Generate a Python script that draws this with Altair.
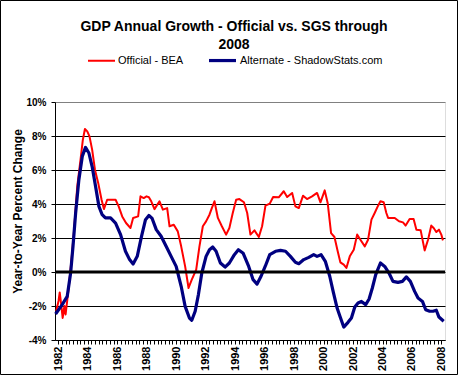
import altair as alt
import pandas as pd

off_years = [1981.86, 1982.02, 1982.10, 1982.20, 1982.30, 1982.42, 1982.50, 1982.62, 1982.72, 1982.90,
             1983.06, 1983.29, 1983.51, 1983.67, 1983.81, 1983.97, 1984.12, 1984.30, 1984.49, 1984.71,
             1984.94, 1985.10, 1985.32, 1985.89, 1986.10, 1986.34, 1986.60, 1986.90, 1987.08, 1987.42,
             1987.58, 1987.80, 1987.99, 1988.15, 1988.31, 1988.53, 1988.87, 1989.10, 1989.39, 1989.55,
             1989.84, 1990.11, 1990.34, 1990.61, 1990.84, 1991.06, 1991.36, 1991.58, 1991.81, 1992.03,
             1992.26, 1992.42, 1992.60, 1992.83, 1993.10, 1993.39, 1993.61, 1993.84, 1994.07, 1994.29,
             1994.60, 1994.82, 1995.04, 1995.31, 1995.61, 1995.83, 1996.06, 1996.35, 1996.58, 1996.96,
             1997.30, 1997.53, 1997.87, 1998.09, 1998.32, 1998.61, 1998.88, 1999.22, 1999.56, 1999.79,
             2000.08, 2000.28, 2000.51, 2000.74, 2000.96, 2001.14, 2001.37, 2001.55, 2001.78, 2002.05,
             2002.28, 2002.50, 2002.80, 2003.02, 2003.25, 2003.47, 2003.70, 2003.86, 2004.08, 2004.26,
             2004.38, 2004.83, 2005.12, 2005.39, 2005.57, 2005.84, 2006.11, 2006.30, 2006.59, 2006.86,
             2007.09, 2007.31, 2007.47, 2007.65, 2007.83, 2007.99, 2008.10]
off_vals = [-2.30, -1.70, -1.20, -1.90, -2.70, -2.00, -2.50, -1.60, -0.84, 0.73,
            2.30, 5.04, 6.60, 7.78, 8.41, 8.27, 7.98, 7.20, 6.02, 5.24,
            4.25, 3.70, 4.25, 4.25, 3.86, 3.27, 2.88, 2.59, 3.18, 3.27,
            4.45, 4.35, 4.45, 4.40, 4.16, 3.70, 4.16, 3.67, 3.76, 2.69,
            2.78, 2.39, 1.51, 0.33, -0.94, -0.45, 0.14, 1.51, 2.69, 2.98,
            3.37, 3.76, 4.16, 3.18, 2.69, 2.20, 2.59, 3.47, 4.25, 4.29,
            4.10, 3.47, 2.20, 2.45, 2.06, 2.69, 3.90, 4.02, 4.41, 4.39,
            4.75, 4.41, 4.65, 3.86, 3.76, 4.49, 4.29, 4.45, 4.65, 4.10,
            4.80, 4.06, 2.29, 2.06, 1.22, 0.57, 0.43, 0.24, 0.92, 1.31,
            2.20, 1.90, 1.51, 1.90, 3.08, 3.47, 3.90, 4.16, 4.10, 3.47,
            3.18, 3.18, 2.98, 2.92, 2.73, 3.12, 3.12, 2.49, 2.45, 1.27,
            1.90, 2.73, 2.59, 2.35, 2.49, 2.20, 1.86]

alt_years = [1981.82, 1982.27, 1982.61, 1982.84, 1983.00, 1983.18, 1983.40, 1983.63, 1983.85, 1984.08,
             1984.30, 1984.53, 1984.76, 1984.98, 1985.20, 1985.55, 1985.89, 1986.23, 1986.56, 1986.84,
             1987.08, 1987.36, 1987.65, 1987.92, 1988.15, 1988.37, 1988.65, 1988.98, 1989.32, 1989.66,
             1990.00, 1990.34, 1990.61, 1990.90, 1991.06, 1991.29, 1991.51, 1991.74, 1992.03, 1992.26,
             1992.48, 1992.71, 1993.00, 1993.32, 1993.61, 1993.95, 1994.22, 1994.55, 1994.90, 1995.22,
             1995.49, 1995.76, 1996.06, 1996.35, 1996.74, 1997.08, 1997.42, 1997.75, 1998.09, 1998.32,
             1998.66, 1999.00, 1999.33, 1999.56, 1999.83, 2000.12, 2000.42, 2000.65, 2000.92, 2001.10,
             2001.37, 2001.66, 2001.89, 2002.12, 2002.34, 2002.57, 2002.86, 2003.09, 2003.31, 2003.54,
             2003.86, 2004.15, 2004.44, 2004.71, 2005.05, 2005.35, 2005.62, 2005.89, 2006.18, 2006.41,
             2006.71, 2006.93, 2007.20, 2007.43, 2007.65, 2007.83, 2008.15]
alt_vals = [-2.47, -1.92, -1.43, -0.06, 1.50, 3.47, 5.43, 6.80, 7.33, 7.00,
            6.20, 5.04, 3.86, 3.37, 3.18, 3.18, 2.88, 2.20, 1.22, 0.73,
            0.47, 0.92, 2.10, 3.08, 3.33, 3.15, 2.49, 2.10, 1.51, 0.92,
            0.33, -0.84, -2.02, -2.71, -2.84, -2.31, -1.33, -0.06, 0.92, 1.31,
            1.47, 1.22, 0.53, 0.29, 0.53, 1.02, 1.31, 1.10, 0.38, -0.45,
            -0.71, -0.25, 0.37, 1.02, 1.22, 1.27, 1.22, 0.92, 0.57, 0.49,
            0.73, 0.86, 1.02, 0.92, 1.02, 0.63, -0.25, -1.14, -2.12, -2.57,
            -3.24, -2.96, -2.71, -2.06, -1.82, -1.73, -1.92, -1.59, -0.94, -0.16,
            0.53, 0.33, -0.06, -0.55, -0.61, -0.55, -0.29, -0.55, -1.14, -1.53,
            -1.73, -2.22, -2.31, -2.31, -2.25, -2.65, -2.90]

series_names = ["Official - BEA", "Alternate - ShadowStats.com"]
series_colors = ["#FF0000", "#000080"]
series_widths = [2, 3.2]
y_ticks = [-4, -2, 0, 2, 4, 6, 8, 10]
x_ticks = [1982 + 0.25 * i for i in range(106)]

df = pd.concat([
    pd.DataFrame({"year": off_years, "value": off_vals, "series": series_names[0], "ord": 0}),
    pd.DataFrame({"year": alt_years, "value": alt_vals, "series": series_names[1], "ord": 1}),
])

FONT = "Liberation Sans"
legend = alt.Legend(orient="none", legendX=32, legendY=-57, direction="horizontal", title=None,
                    symbolType="stroke", symbolSize=729, labelFontSize=11, labelFont=FONT,
                    labelColor="black", labelOffset=2, columnPadding=18)

xscale = alt.Scale(domain=[1981.78, 2008.24], nice=False, zero=False)
yscale = alt.Scale(domain=[-4, 10], nice=False, zero=False)
YTITLE = "Year-to-Year Percent Change"
yaxis = alt.Axis(values=y_ticks, labelExpr="datum.value + '%'", labelFontSize=10,
                 labelFontWeight="bold", labelFont=FONT, labelColor="black",
                 labelOverlap=False, labelBound=False, labelFlush=False,
                 labelPadding=5, tickSize=4, tickColor="black", domainColor="black",
                 gridColor={"condition": {"test": "datum.value == 10", "value": "#808080"},
                            "value": "black"},
                 titleFontSize=12, titleFontWeight="bold", titleFont=FONT,
                 titleColor="black", titleX=-38, titleY=109, titleAngle=270,
                 titleAlign="center", titleBaseline="middle")

lines = alt.Chart(df).mark_line(strokeJoin="round").encode(
    x=alt.X("year:Q", scale=xscale, title=None,
            axis=alt.Axis(values=x_ticks, grid=False, labelAngle=270, labelFontSize=11,
                          labelFontWeight="bold", labelFont=FONT, labelColor="black",
                          labelExpr="(datum.value % 2 === 0) ? toString(datum.value) : ''",
                          labelOverlap=False, labelPadding=2, tickSize=4, tickColor="black",
                          domainColor="black", labelBound=False, labelFlush=False)),
    y=alt.Y("value:Q", scale=yscale, title=YTITLE, axis=yaxis),
    color=alt.Color("series:N", scale=alt.Scale(domain=series_names, range=series_colors), legend=legend),
    strokeWidth=alt.StrokeWidth("series:N", scale=alt.Scale(domain=series_names, range=series_widths),
                                legend=legend),
    order="ord:Q",
)

zero = alt.Chart(pd.DataFrame({"value": [0]})).mark_rule(color="black", strokeWidth=3).encode(
    y=alt.Y("value:Q", scale=yscale, title=YTITLE, axis=yaxis))

frame = alt.Chart(pd.DataFrame({"a": [0]})).mark_rect(fillOpacity=0, stroke="black", strokeWidth=1).encode(
    x=alt.value(-54.5), x2=alt.value(402.5), y=alt.value(-101.5), y2=alt.value(272.5))

chart = alt.layer(lines, zero, frame).properties(
    width=390, height=238,
    padding={"left": 55, "top": 102, "right": 13, "bottom": 35},
    autosize="none",
    title=alt.TitleParams(text=["GDP Annual Growth - Official vs. SGS through", "2008"],
                          fontSize=14, fontWeight="bold", font=FONT, color="black",
                          anchor="middle", dx=-16, offset=-51.5, lineHeight=18),
).configure_view(stroke="#808080", strokeWidth=1).configure(background="white")

chart.save("out.html", embed_options={"renderer": "svg", "actions": False})
